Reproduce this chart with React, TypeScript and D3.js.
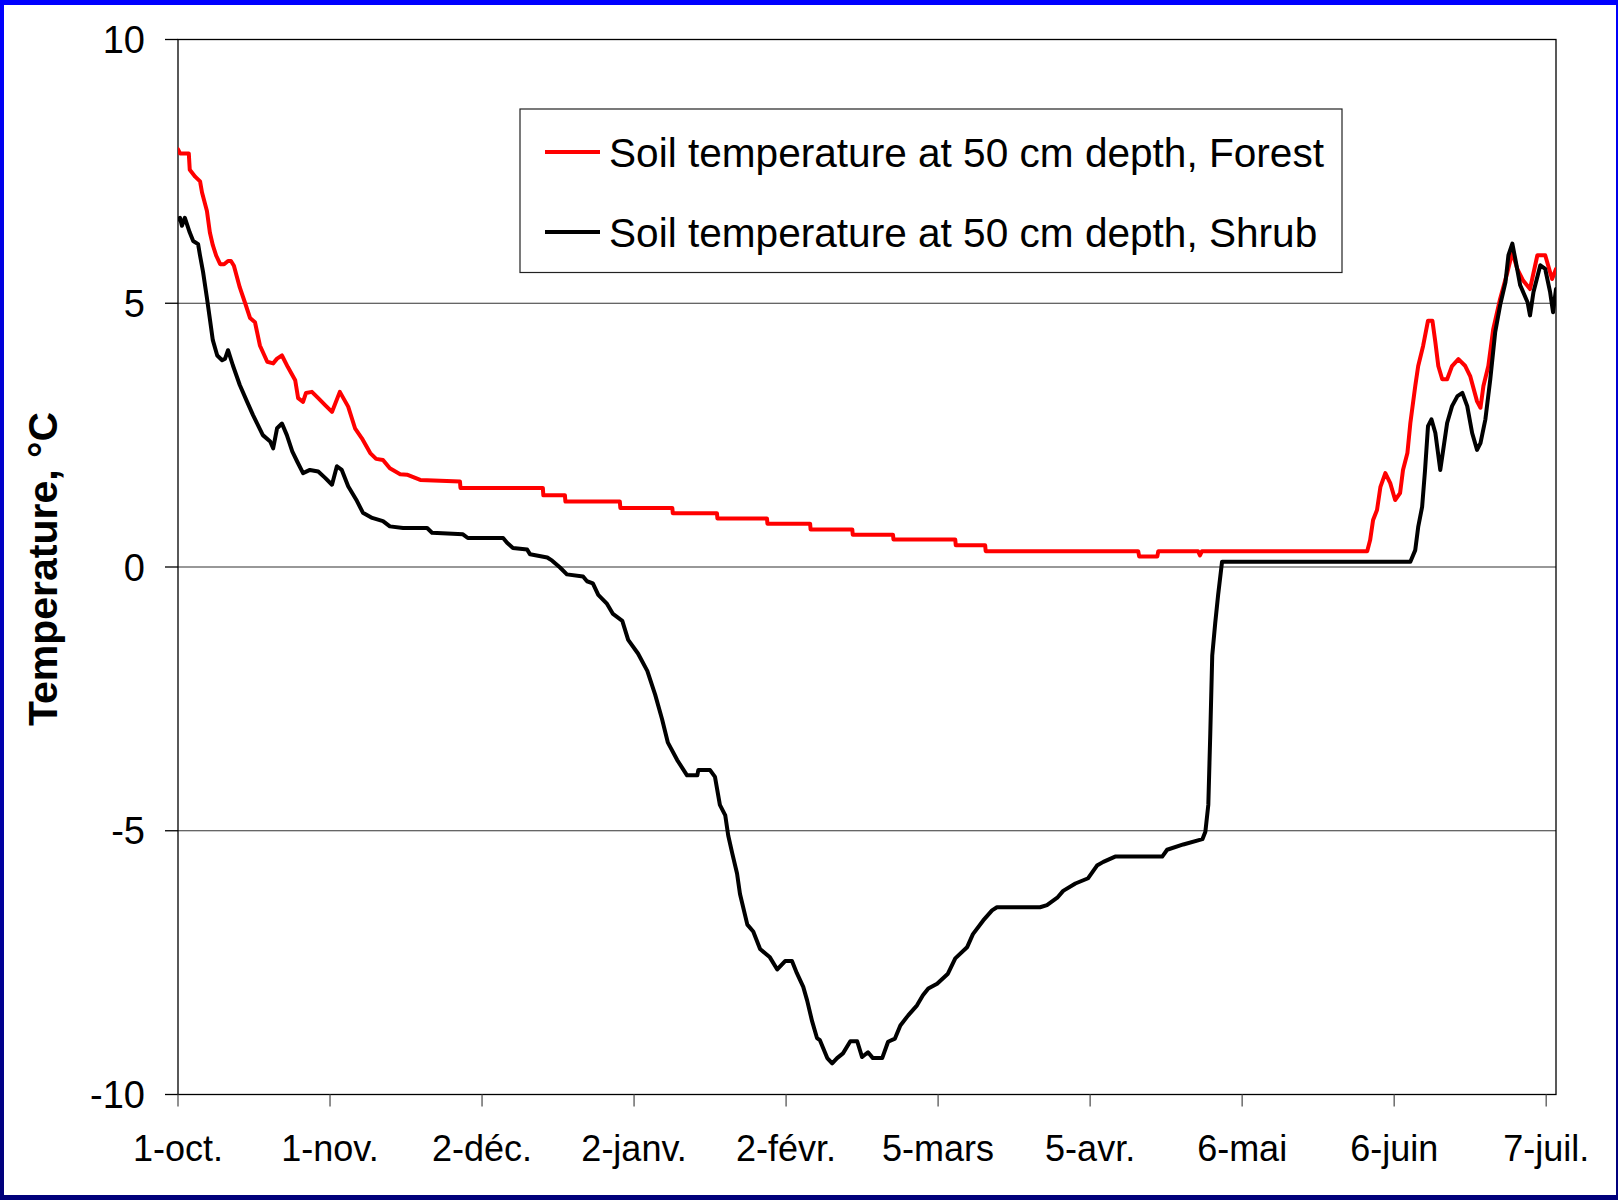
import React from "react";
import * as d3 from "d3";

// ---- Data (days since 1 October) ----
const dayTicks = [0, 31, 62, 93, 124, 155, 186, 217, 248, 279];
const dayTickLabels = ["1-oct.", "1-nov.", "2-déc.", "2-janv.", "2-févr.", "5-mars", "5-avr.", "6-mai", "6-juin", "7-juil."];
const tempTicks = [-10, -5, 0, 5, 10];
const gridTemps = [-5, 0, 5];

const forestDays = [0, 0.4, 2.2, 2.4, 3.5, 4.5, 4.9, 5.9, 6.5, 7.1, 7.8, 8.6, 9.4, 10.2, 10.8, 11.4, 12.6, 13.7, 14.7, 15.7, 16.7, 18.2, 19.4, 20.2, 21.2, 22.4, 23.9, 24.5, 25.5, 26.1, 27.3, 28.6, 30.0, 31.4, 33.0, 34.7, 36.1, 37.5, 39.2, 40.4, 41.8, 43.2, 45.3, 46.7, 49.4, 57.5, 57.6, 74.4, 74.5, 78.9, 79.0, 90.1, 90.2, 100.8, 100.9, 109.9, 110.0, 120.1, 120.2, 128.9, 129.0, 137.5, 137.6, 145.8, 145.9, 158.5, 158.6, 164.6, 164.7, 195.8, 196.0, 199.7, 199.9, 208.0, 208.4, 208.8, 242.5, 243.1, 243.7, 244.5, 245.2, 246.2, 247.2, 248.2, 249.2, 249.8, 250.7, 251.3, 252.3, 252.9, 253.9, 254.9, 255.8, 256.4, 257.0, 257.8, 258.8, 259.8, 261.1, 262.5, 263.5, 264.9, 265.6, 266.2, 267.2, 268.2, 269.6, 271.1, 272.1, 273.1, 274.3, 275.7, 277.2, 278.8, 280.2, 281];
const forestTemps = [7.92, 7.84, 7.84, 7.53, 7.4, 7.31, 7.1, 6.75, 6.34, 6.1, 5.9, 5.74, 5.74, 5.8, 5.8, 5.71, 5.3, 5.0, 4.72, 4.64, 4.2, 3.89, 3.86, 3.95, 4.01, 3.79, 3.54, 3.2, 3.13, 3.3, 3.32, 3.2, 3.07, 2.94, 3.32, 3.04, 2.63, 2.44, 2.16, 2.05, 2.03, 1.87, 1.76, 1.75, 1.65, 1.62, 1.5, 1.5, 1.36, 1.36, 1.24, 1.24, 1.12, 1.12, 1.02, 1.02, 0.92, 0.92, 0.82, 0.82, 0.71, 0.71, 0.61, 0.61, 0.52, 0.52, 0.41, 0.41, 0.3, 0.3, 0.2, 0.2, 0.3, 0.3, 0.22, 0.3, 0.3, 0.51, 0.89, 1.08, 1.52, 1.78, 1.59, 1.27, 1.4, 1.84, 2.16, 2.73, 3.43, 3.81, 4.19, 4.67, 4.67, 4.26, 3.81, 3.56, 3.56, 3.81, 3.94, 3.81, 3.62, 3.14, 3.02, 3.43, 3.81, 4.51, 5.08, 5.59, 5.97, 5.65, 5.43, 5.27, 5.91, 5.91, 5.46, 5.65];

const shrubDays = [0, 0.4, 0.8, 1.4, 2.4, 3.1, 4.1, 4.5, 5.1, 5.9, 6.5, 7.1, 8.0, 9.0, 9.6, 10.2, 11.2, 12.6, 14.1, 15.3, 16.3, 17.3, 18.8, 19.4, 20.2, 21.2, 22.2, 23.3, 24.3, 25.5, 26.9, 28.6, 30.0, 31.4, 32.4, 33.4, 34.7, 36.5, 37.7, 39.6, 41.8, 43.2, 45.9, 50.8, 51.8, 58.1, 59.1, 66.3, 67.1, 68.3, 71.2, 71.8, 75.3, 76.3, 77.9, 79.3, 82.6, 83.4, 84.6, 85.7, 87.5, 88.7, 90.6, 91.8, 93.8, 95.7, 97.3, 98.7, 99.9, 101.8, 103.8, 105.9, 106.1, 108.5, 109.5, 110.5, 111.6, 112.2, 113.0, 114.0, 114.6, 116.1, 117.3, 118.7, 120.7, 122.2, 123.8, 125.2, 126.2, 127.5, 128.3, 129.3, 130.3, 130.9, 132.4, 133.4, 134.4, 135.6, 137.1, 138.5, 139.5, 140.7, 141.7, 143.6, 144.8, 146.2, 147.3, 148.9, 150.7, 151.9, 153.0, 154.8, 157.0, 158.5, 160.9, 162.1, 164.2, 166.0, 167.0, 175.8, 177.2, 179.3, 180.5, 183.0, 185.6, 187.4, 188.7, 191.1, 200.7, 201.7, 205.0, 208.9, 209.5, 210.1, 210.5, 210.9, 211.5, 212.1, 212.9, 251.3, 252.3, 252.9, 253.7, 254.3, 254.9, 255.6, 256.4, 257.4, 258.0, 258.8, 259.8, 260.9, 261.9, 262.9, 263.9, 264.9, 265.6, 266.6, 267.6, 268.6, 269.6, 270.7, 271.3, 272.1, 272.7, 273.7, 275.2, 275.7, 276.4, 277.8, 278.8, 279.8, 280.4, 281];
const shrubTemps = [6.59, 6.62, 6.47, 6.62, 6.34, 6.18, 6.12, 5.9, 5.6, 5.1, 4.7, 4.3, 4.01, 3.92, 3.95, 4.11, 3.82, 3.45, 3.13, 2.88, 2.69, 2.5, 2.38, 2.25, 2.63, 2.72, 2.5, 2.19, 2.0, 1.78, 1.84, 1.81, 1.69, 1.56, 1.91, 1.84, 1.53, 1.25, 1.03, 0.93, 0.87, 0.77, 0.74, 0.74, 0.65, 0.62, 0.55, 0.55, 0.46, 0.36, 0.33, 0.24, 0.18, 0.12, -0.01, -0.14, -0.18, -0.27, -0.31, -0.53, -0.7, -0.89, -1.02, -1.38, -1.64, -1.97, -2.42, -2.88, -3.33, -3.66, -3.95, -3.95, -3.85, -3.85, -3.98, -4.51, -4.71, -5.09, -5.42, -5.81, -6.2, -6.78, -6.91, -7.24, -7.4, -7.63, -7.47, -7.47, -7.7, -7.96, -8.22, -8.61, -8.93, -8.97, -9.31, -9.41, -9.31, -9.22, -8.99, -8.99, -9.29, -9.2, -9.31, -9.31, -9.0, -8.94, -8.69, -8.5, -8.31, -8.12, -7.99, -7.9, -7.71, -7.42, -7.21, -6.96, -6.7, -6.51, -6.45, -6.45, -6.41, -6.27, -6.14, -6.0, -5.9, -5.66, -5.59, -5.49, -5.49, -5.36, -5.26, -5.16, -5.02, -4.51, -3.16, -1.68, -1.07, -0.53, 0.1, 0.1, 0.32, 0.76, 1.14, 1.84, 2.67, 2.8, 2.54, 1.84, 2.22, 2.73, 3.05, 3.24, 3.3, 3.05, 2.54, 2.22, 2.35, 2.8, 3.56, 4.45, 4.96, 5.4, 5.91, 6.13, 5.84, 5.34, 5.02, 4.77, 5.21, 5.72, 5.65, 5.21, 4.83, 5.27];

const seriesNames = ["Soil temperature at 50 cm depth, Forest", "Soil temperature at 50 cm depth, Shrub"];
const seriesColors = ["#ff0000", "#000000"];

const W = 1618;
const H = 1200;
const plot = { left: 178, right: 1556, top: 39.5, bottom: 1094.5 };

export default function App() {
  const x = d3.scaleLinear().domain([0, 281]).range([plot.left, plot.right]);
  const y = d3.scaleLinear().domain([-10, 10]).range([plot.bottom, plot.top]);
  const line = d3
    .line<[number, number]>()
    .x((d) => x(d[0]))
    .y((d) => y(d[1]));
  const forest: [number, number][] = forestDays.map((d, i) => [d, forestTemps[i]]);
  const shrub: [number, number][] = shrubDays.map((d, i) => [d, shrubTemps[i]]);
  const series = [forest, shrub];
  const font = "'Liberation Sans', Arial, sans-serif";

  return (
    <svg
      width={W}
      height={H}
      style={{ position: "absolute", left: 0, top: 0, background: "#fff" }}
      fontFamily={font}
    >
      <defs>
        <linearGradient id="bord" x1="0" y1="0" x2="0" y2={H} gradientUnits="userSpaceOnUse">
          <stop offset="0" stopColor="#0000ff" />
          <stop offset="1" stopColor="#00007a" />
        </linearGradient>
        <clipPath id="clip">
          <rect x={plot.left} y={plot.top} width={plot.right - plot.left} height={plot.bottom - plot.top} />
        </clipPath>
      </defs>
      <rect x={0} y={0} width={W} height={H} fill="#ffffff" />
      {/* frame border */}
      <rect x={0} y={0} width={W} height={5} fill="url(#bord)" />
      <rect x={0} y={H - 5} width={W} height={5} fill="url(#bord)" />
      <rect x={0} y={0} width={4} height={H} fill="url(#bord)" />
      <rect x={W - 2} y={0} width={2} height={H} fill="url(#bord)" />

      {/* gridlines */}
      {gridTemps.map((t) => (
        <line key={t} x1={plot.left} x2={plot.right} y1={y(t)} y2={y(t)} stroke="#333" strokeWidth={1.2} />
      ))}
      {/* plot frame */}
      <rect
        x={plot.left}
        y={plot.top}
        width={plot.right - plot.left}
        height={plot.bottom - plot.top}
        fill="none"
        stroke="#000"
        strokeWidth={1.3}
      />
      {/* y ticks */}
      {tempTicks.map((t) => (
        <g key={t}>
          <line x1={plot.left - 13} x2={plot.left} y1={y(t)} y2={y(t)} stroke="#000" strokeWidth={1.3} />
          <text x={145} y={y(t)} dy="0.36em" textAnchor="end" fontSize={38} fill="#000">
            {t}
          </text>
        </g>
      ))}
      {/* x ticks */}
      {dayTicks.map((d, i) => (
        <g key={d}>
          <line x1={x(d)} x2={x(d)} y1={plot.bottom} y2={plot.bottom + 12} stroke="#555" strokeWidth={1.3} />
          <text x={x(d)} y={1148} dy="0.36em" textAnchor="middle" fontSize={36} fill="#000">
            {dayTickLabels[i]}
          </text>
        </g>
      ))}

      {/* series */}
      <g clipPath="url(#clip)">
        {series.map((s, i) => (
          <path
            key={i}
            d={line(s) || ""}
            fill="none"
            stroke={seriesColors[i]}
            strokeWidth={4}
            strokeLinejoin="round"
            strokeLinecap="round"
          />
        ))}
      </g>

      {/* y axis title */}
      <text
        transform={`translate(42, 569) rotate(-90)`}
        textAnchor="middle"
        dy="0.36em"
        fontSize={41}
        fontWeight="bold"
        fill="#000"
      >
        Temperature, °C
      </text>

      {/* legend */}
      <rect x={520} y={109} width={822} height={163.5} fill="#fff" stroke="#222" strokeWidth={1.2} />
      {seriesNames.map((n, i) => (
        <g key={n}>
          <line x1={545} x2={600} y1={152 + i * 80} y2={152 + i * 80} stroke={seriesColors[i]} strokeWidth={4} />
          <text x={609} y={152 + i * 80} dy="0.36em" fontSize={40.6} fill="#000">
            {n}
          </text>
        </g>
      ))}
    </svg>
  );
}
